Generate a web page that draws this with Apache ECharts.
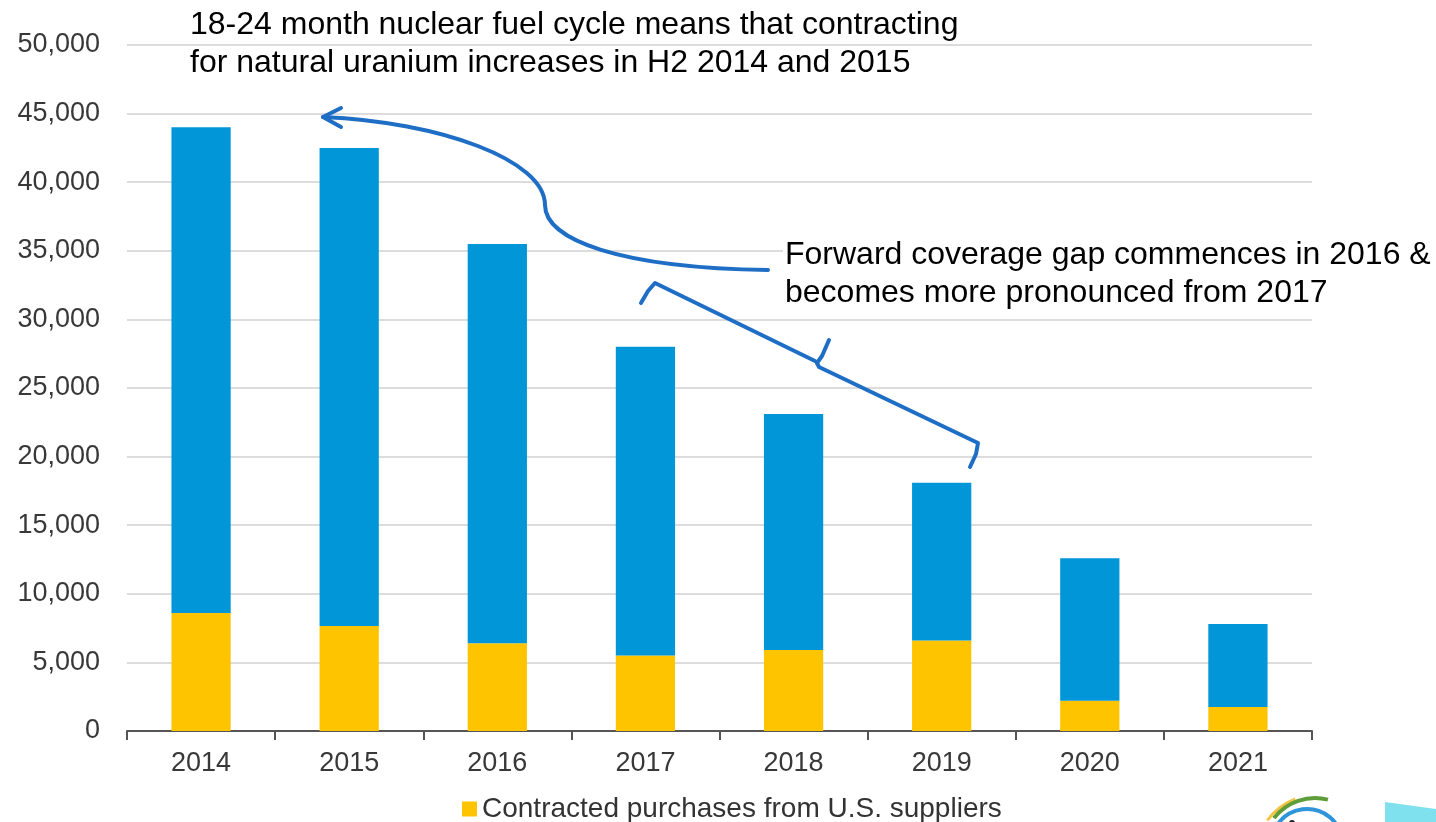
<!DOCTYPE html>
<html>
<head>
<meta charset="utf-8">
<script src="https://cdn.jsdelivr.net/npm/echarts@6/dist/echarts.min.js"></script>
<style>
  html, body { margin: 0; padding: 0; background: #fff; }
  #chart { width: 1436px; height: 822px; }
</style>
</head>
<body>
<div id="chart"></div>
<script>
var years = ['2014', '2015', '2016', '2017', '2018', '2019', '2020', '2021'];
// contracted purchases from U.S. suppliers (bottom, yellow)
var usSuppliers = [8600, 7650, 6400, 5500, 5900, 6600, 2200, 1750];
// remainder of contracted purchases (top, blue)
var otherSuppliers = [35400, 34850, 29100, 22500, 17200, 11500, 10400, 6050];

var yTickMin = 0, yTickMax = 50000, yTickStep = 5000;

var noteTop = ['18-24 month nuclear fuel cycle means that contracting',
               'for natural uranium increases in H2 2014 and 2015'];
var noteRight = ['Forward coverage gap commences in 2016 &',
                 'becomes more pronounced from 2017'];

(function () {
    var chart = echarts.init(document.getElementById('chart'));
    var lineBlue = '#1F6EC6';
    var font = '"Liberation Sans", Arial, sans-serif';

    function fmt(v) {
        return String(v).replace(/\B(?=(\d{3})+(?!\d))/g, ',');
    }

    var stroke = { fill: null, stroke: lineBlue, lineWidth: 4, lineCap: 'round', lineJoin: 'round' };

    var option = {
        animation: false,
        backgroundColor: '#fff',
        grid: {
            left: 127, right: 124, top: 45, bottom: 91,
            outerBoundsMode: 'none'
        },
        legend: {
            data: ['Contracted purchases from U.S. suppliers'],
            left: 457, top: 790,
            itemWidth: 15, itemHeight: 15, itemGap: 5,
            icon: 'rect',
            textStyle: { fontFamily: font, fontSize: 28, color: '#333' }
        },
        xAxis: {
            type: 'category',
            data: years,
            axisLine: { lineStyle: { color: '#555', width: 2 } },
            axisTick: { show: true, length: 9, lineStyle: { color: '#555', width: 2 } },
            axisLabel: { margin: 19, fontFamily: font, fontSize: 27, color: '#383838' }
        },
        yAxis: {
            type: 'value',
            min: yTickMin, max: yTickMax, interval: yTickStep,
            axisLine: { show: false },
            axisTick: { show: false },
            splitLine: { lineStyle: { color: '#DCDCDC', width: 2 } },
            axisLabel: {
                margin: 27, fontFamily: font, fontSize: 27, color: '#383838',
                formatter: fmt
            }
        },
        series: [
            {
                name: 'Contracted purchases from U.S. suppliers',
                type: 'bar', stack: 'total',
                barCategoryGap: '60%',
                itemStyle: { color: '#FFC400' },
                data: usSuppliers
            },
            {
                name: 'Contracted purchases from other suppliers',
                type: 'bar', stack: 'total',
                barCategoryGap: '60%',
                itemStyle: { color: '#0096D8' },
                data: otherSuppliers
            }
        ],
        graphic: [
            {
                type: 'text', x: 190, y: 6, z: 100,
                style: { text: noteTop.join('\n'), font: '32px ' + font, fill: '#000', lineHeight: 38 }
            },
            {
                type: 'rect', z: 100,
                shape: { x: 783, y: 240, width: 540, height: 22 },
                style: { fill: '#fff' }
            },
            {
                type: 'text', x: 785, y: 236, z: 101,
                style: { text: noteRight.join('\n'), font: '32px ' + font, fill: '#000', lineHeight: 38 }
            },
            {
                type: 'bezierCurve', z: 100,
                shape: { x1: 768, y1: 270, cpx1: 620, cpy1: 268, cpx2: 545, cpy2: 240, x2: 545, y2: 205 },
                style: stroke
            },
            {
                type: 'bezierCurve', z: 100,
                shape: { x1: 545, y1: 205, cpx1: 545, cpy1: 160, cpx2: 440, cpy2: 122, x2: 323, y2: 117 },
                style: stroke
            },
            {
                type: 'polyline', z: 100,
                shape: { points: [[341, 108], [323, 117], [341, 127]] },
                style: stroke
            },
            {
                type: 'polyline', z: 100,
                shape: { points: [[641, 303], [648, 291], [655, 283], [815, 361]] },
                style: stroke
            },
            {
                type: 'polyline', z: 100,
                shape: { points: [[817, 363], [822, 356], [829, 340]] },
                style: stroke
            },
            {
                type: 'polyline', z: 100,
                shape: { points: [[817, 363], [819, 367], [978, 443], [976, 454], [970, 467]] },
                style: stroke
            },
            {
                type: 'polygon', z: 100,
                shape: { points: [[1385, 802], [1436, 809], [1436, 822], [1385, 822]] },
                style: { fill: '#7FE0EE' }
            },
            {
                type: 'arc', z: 100,
                shape: { cx: 1320, cy: 860, r: 66, startAngle: Math.PI * 1.205, endAngle: Math.PI * 1.378 },
                style: { fill: null, stroke: '#F6C445', lineWidth: 3 }
            },
            {
                type: 'arc', z: 100,
                shape: { cx: 1315, cy: 850, r: 52, startAngle: Math.PI * 1.21, endAngle: Math.PI * 1.58 },
                style: { fill: null, stroke: '#5E9E3A', lineWidth: 4 }
            },
            {
                type: 'arc', z: 100,
                shape: { cx: 1307, cy: 845, r: 36, startAngle: Math.PI * 1.21, endAngle: Math.PI * 1.79 },
                style: { fill: null, stroke: '#2E95DA', lineWidth: 4 }
            },
            {
                type: 'circle', z: 100,
                shape: { cx: 1292, cy: 823, r: 3 },
                style: { fill: '#222' }
            }
        ]
    };
    chart.setOption(option);
})();
</script>
</body>
</html>
